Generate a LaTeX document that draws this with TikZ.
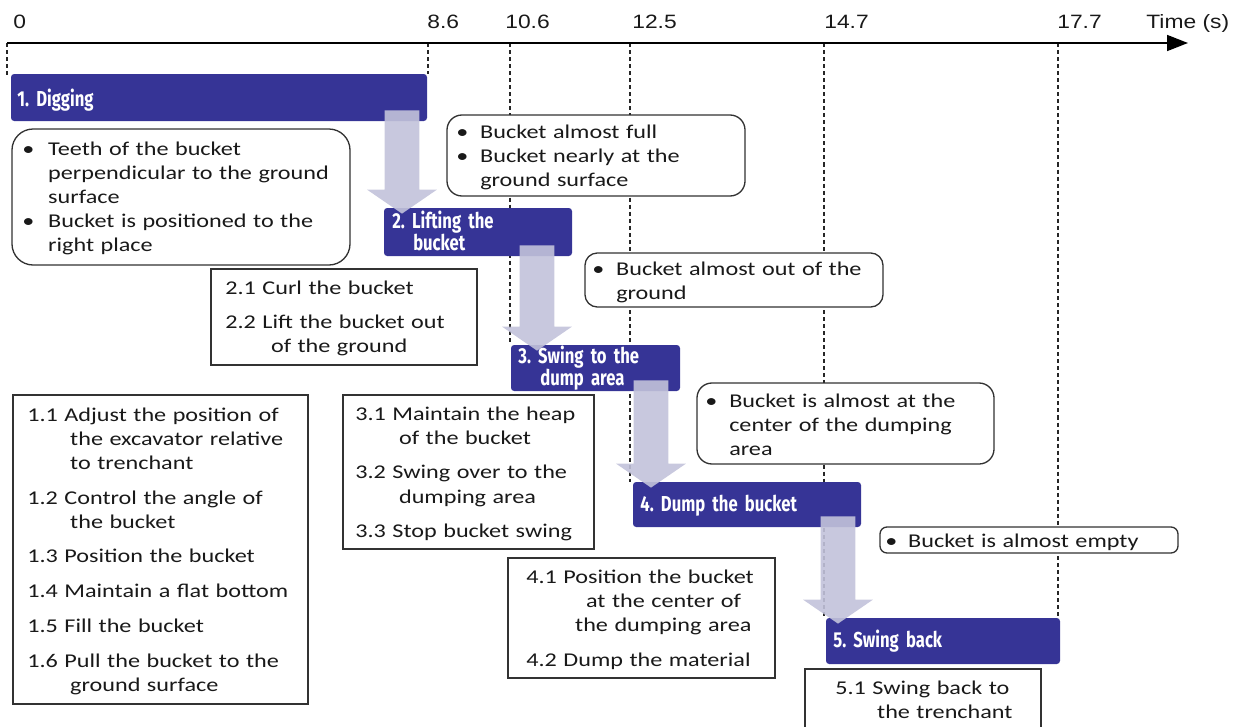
\documentclass[tikz,border=0pt]{standalone}
\usepackage{fontspec}
\setmainfont{Carlito}[FakeStretch=1.24]
\newfontfamily\axisfont{Liberation Sans}[FakeStretch=1.18]
\newfontfamily\stagefont{Fira Sans}[FakeStretch=0.77, WordSpace=0.8]
\usetikzlibrary{arrows.meta,calc,backgrounds}

\definecolor{stageblue}{RGB}{54,52,150}
\definecolor{flowfill}{RGB}{194,194,218}
\definecolor{frameline}{RGB}{50,50,50}
\definecolor{textgray}{RGB}{25,25,25}

% bullet and hanging indent inside the note boxes
\newcommand\bul[1][13.6pt]{\makebox[#1][l]{\textbullet}}
\newcommand\ind[1][13.6pt]{\hspace*{#1}}
\newcommand\gap{\\[6.1pt]}

% frame node given by its corners (in px units): style, name, x1, y1, x2, y2
\newcommand\frameat[6]{%
  \node[#1, minimum width={(#5-#3)*0.02cm}, minimum height={(#6-#4)*0.02cm}]
    (#2) at ({(#3+#5)/2},{(#4+#6)/2}) {};}

% broad block arrow from one stage box down to the next, centred at x = #3
\newcommand\flowarrow[3]{%
  \fill[flowarrow] let \p1=(#1.south), \p2=(#2.north), \p3=(#3,0) in
    (\x3-9.92pt,\y1+6.24pt) -- (\x3+9.92pt,\y1+6.24pt) -- (\x3+9.92pt,\y2+10.21pt)
    -- (\x3+19.84pt,\y2+10.21pt) -- (\x3,\y2-3.40pt) -- (\x3-19.84pt,\y2+10.21pt)
    -- (\x3-9.92pt,\y2+10.21pt) -- cycle;}

\begin{document}
\begin{tikzpicture}[x=0.02cm, y=-0.02cm,
  stagebox/.style={fill=stageblue, draw=none, rounded corners=1.8pt, inner sep=0pt},
  stagelabel/.style={font=\stagefont\bfseries\fontsize{12.3}{11.1}\selectfont,
    text=white, inner sep=0pt, anchor=base west, align=left, text width=6cm},
  note/.style={draw=frameline, line width=0.75pt, fill=white, inner sep=0pt},
  body/.style={font=\fontsize{11.1}{13.72}\selectfont, text=textgray,
    inner sep=0pt, anchor=base west, align=left, text width=8cm},
  tick/.style={font=\axisfont\fontsize{11}{13}\selectfont, text=textgray,
    inner sep=0pt, anchor=base west},
  guide/.style={draw=black!85, line width=0.6pt, dash pattern=on 2.3pt off 1.7pt},
  flowarrow/.style={fill=flowfill, fill opacity=0.9},
  axisline/.style={draw=black, line width=1.15pt, -{Triangle[length=11.9pt,width=9pt]}}]

\useasboundingbox (0,0) rectangle (1248,727);
\clip (0,0) rectangle (1248,727);

% time axis
\coordinate (g0)   at (7,43);
\coordinate (g86)  at (428,43);
\coordinate (g106) at (510,43);
\coordinate (g125) at (630,43);
\coordinate (g147) at (824,43);
\coordinate (g177) at (1058,43);
\coordinate (tend) at (1188,43);
\draw[axisline] (g0) -- (tend);

\node[tick] (l0)   at (13,28)   {0};
\node[tick] (l86)  at (427,28)  {8.6};
\node[tick] (l106) at (505,28)  {10.6};
\node[tick] (l125) at (632,28)  {12.5};
\node[tick] (l147) at (824,28)  {14.7};
\node[tick] (l177) at (1057,28) {17.7};
\node[tick] (ltime) at (1146,28) {Time (s)};

% stage boxes
\frameat{stagebox}{s1}{11}{74}{427}{121}
\frameat{stagebox}{s2}{384}{208}{572}{256}
\frameat{stagebox}{s3}{511}{345}{680}{391}
\frameat{stagebox}{s4}{633}{482}{861}{527}
\frameat{stagebox}{s5}{826}{618}{1060}{664}

\node[stagelabel] (s1t) at (17,106)  {1.\ Digging};
\node[stagelabel] (s2t) at (392,228) {2.\ Lifting the\\\hspace*{11.9pt}bucket};
\node[stagelabel] (s3t) at (518,363) {3.\ Swing to the\\\hspace*{12.5pt}dump area};
\node[stagelabel] (s4t) at (640,511) {4.\ Dump the bucket};
\node[stagelabel] (s5t) at (833,647) {5.\ Swing back};

% condition notes (rounded)
\frameat{note, rounded corners=12pt}{nA}{12}{129}{350}{265}
\frameat{note, rounded corners=8.5pt}{nB}{447}{115}{745}{196}
\frameat{note, rounded corners=7pt}{nD}{585}{253}{883}{307}
\frameat{note, rounded corners=8.5pt}{nG}{697}{383}{994}{464}
\frameat{note, rounded corners=4pt}{nH}{880}{527}{1178}{553}

% sub-task lists (square)
\frameat{note}{nC}{211}{269}{477}{365}
\frameat{note}{nE}{13}{395}{308}{704}
\frameat{note}{nF}{343}{395}{594}{549}
\frameat{note}{nI}{508}{558}{775}{678}
\frameat{note}{nJ}{805}{669}{1041}{740}

\node[body] (tA) at (22,155) {\bul[14.74pt]Teeth of the bucket\\
  \ind[14.74pt]perpendicular to the ground\\
  \ind[14.74pt]surface\\
  \bul[14.74pt]Bucket is positioned to the\\
  \ind[14.74pt]right place};
\node[body] (tB) at (456,138) {\bul Bucket almost full\\
  \bul Bucket nearly at the\\
  \ind ground surface};
\node[body] (tD) at (592,275) {\bul Bucket almost out of the\\
  \ind ground};
\node[body] (tG) at (705,407) {\bul Bucket is almost at the\\
  \ind center of the dumping\\
  \ind area};
\node[body] (tH) at (885,547) {\bul[13pt]Bucket is almost empty};

\node[body] (tC) at (225,294) {2.1 Curl the bucket\gap
  2.2 Lift the bucket out\\
  \ind[26pt]of the ground};
\node[body] (tE) at (27,421) {1.1 Adjust the position of\\
  \ind[24.4pt]the excavator relative\\
  \ind[24.4pt]to trenchant\gap
  1.2 Control the angle of\\
  \ind[24.4pt]the bucket\gap
  1.3 Position the bucket\gap
  1.4 Maintain a flat bottom\gap
  1.5 Fill the bucket\gap
  1.6 Pull the bucket to the\\
  \ind[24.4pt]ground surface};
\node[body] (tF) at (355,420) {3.1 Maintain the heap\\
  \ind[24.9pt]of the bucket\gap
  3.2 Swing over to the\\
  \ind[24.9pt]dumping area\gap
  3.3 Stop bucket swing};
\node[body] (tI) at (526,583) {4.1 Position the bucket\\
  \ind[34pt]at the center of\\
  \ind[27.8pt]the dumping area\gap
  4.2 Dump the material};
\node[body] (tJ) at (835,694) {5.1 Swing back to\\
  \ind[23.8pt]the trenchant};

% time markers behind the boxes
\begin{scope}[on background layer]
  \draw[guide] (g0)   -- (g0 |- 0,78);
  \draw[guide] (g86)  -- (g86 |- s1.north);
  \draw[guide] (g106) -- (g106 |- s3.north);
  \draw[guide] (g125) -- (g125 |- s4.north);
  \draw[guide] (g147) -- (g147 |- s5.north);
  \draw[guide] (g177) -- (g177 |- s5.north);
\end{scope}

% transitions between stages
\flowarrow{s1}{s2}{402}
\flowarrow{s2}{s3}{537}
\flowarrow{s3}{s4}{651}
\flowarrow{s4}{s5}{838}

\end{tikzpicture}
\end{document}
